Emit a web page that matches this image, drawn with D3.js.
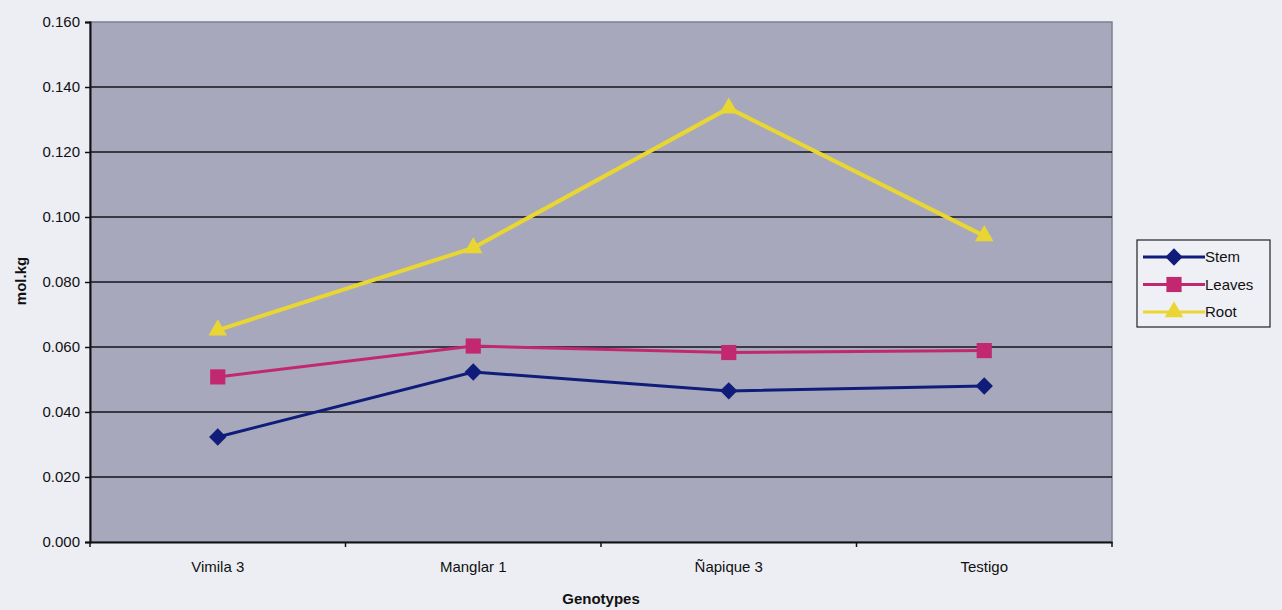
<!DOCTYPE html>
<html>
<head>
<meta charset="utf-8">
<script src="https://cdn.jsdelivr.net/npm/d3@7"></script>
<style>
  html, body { margin: 0; padding: 0; background: #eceef4; }
  svg { display: block; }
</style>
</head>
<body>
<svg id="chart" width="1282" height="610"></svg>
<script>
// Genotypes on the x axis
const categories = ["Vimila 3", "Manglar 1", "Ñapique 3", "Testigo"];
// Series values (mol.kg)
const stem   = [0.0323, 0.0523, 0.0465, 0.0480];
const leaves = [0.0508, 0.0603, 0.0583, 0.0589];
const root   = [0.0652, 0.0905, 0.1335, 0.0942];
// Y tick values
const yTicks = [0, 0.02, 0.04, 0.06, 0.08, 0.10, 0.12, 0.14, 0.16];

const series = [
  { name: "Stem",   values: stem,   color: "#101c7a", shape: "diamond" },
  { name: "Leaves", values: leaves, color: "#c2286f", shape: "square" },
  { name: "Root",   values: root,   color: "#e9d632", shape: "triangle" }
];

const FONT = "Liberation Sans, Arial, sans-serif";
const svg = d3.select("#chart");
const plot = { left: 90, right: 1112, top: 22, bottom: 542 };

const x = d3.scaleBand().domain(categories).range([plot.left, plot.right]).paddingInner(0).paddingOuter(0);
const y = d3.scaleLinear().domain([0, 0.16]).range([plot.bottom, plot.top]);

// plot background
svg.append("rect")
  .attr("x", plot.left).attr("y", plot.top)
  .attr("width", plot.right - plot.left).attr("height", plot.bottom - plot.top)
  .attr("fill", "#a7a8bc")
  .attr("stroke", "#7e7f8e").attr("stroke-width", 1.5);

// horizontal gridlines
svg.append("g").selectAll("line").data(yTicks.filter(d => d > 0 && d < 0.16)).join("line")
  .attr("x1", plot.left).attr("x2", plot.right)
  .attr("y1", d => y(d)).attr("y2", d => y(d))
  .attr("stroke", "#15151c").attr("stroke-width", 1.3);

// y axis
const yAxis = svg.append("g").attr("transform", `translate(${plot.left},0)`)
  .call(d3.axisLeft(y).tickValues(yTicks).tickFormat(d3.format(".3f")).tickSize(5).tickPadding(5));
yAxis.select(".domain").attr("stroke", "#111").attr("stroke-width", 2);
yAxis.selectAll(".tick line").attr("stroke", "#111").attr("stroke-width", 1.5);
yAxis.selectAll("text").attr("font-family", FONT)
  .attr("font-size", 15).attr("fill", "#111");

// x axis
const xAxis = svg.append("g").attr("transform", `translate(0,${plot.bottom})`)
  .call(d3.axisBottom(x).tickSize(0).tickPadding(19));
xAxis.select(".domain").attr("stroke", "#111").attr("stroke-width", 2);
xAxis.selectAll("text").attr("font-family", FONT)
  .attr("font-size", 15).attr("fill", "#111");
// category boundary ticks
const bounds = categories.map(c => x(c)).concat([x(categories[categories.length - 1]) + x.bandwidth()]);
svg.append("g").selectAll("line").data(bounds).join("line")
  .attr("x1", d => d).attr("x2", d => d)
  .attr("y1", plot.bottom).attr("y2", plot.bottom + 5)
  .attr("stroke", "#111").attr("stroke-width", 1.5);

// axis titles
svg.append("text")
  .attr("x", (plot.left + plot.right) / 2).attr("y", 604)
  .attr("text-anchor", "middle")
  .attr("font-family", FONT)
  .attr("font-size", 15).attr("font-weight", "bold").attr("fill", "#111")
  .text("Genotypes");
svg.append("text")
  .attr("transform", `translate(26,${(plot.top + plot.bottom) / 2 - 1}) rotate(-90)`)
  .attr("text-anchor", "middle")
  .attr("font-family", FONT)
  .attr("font-size", 15).attr("font-weight", "bold").attr("fill", "#111")
  .text("mol.kg");

const symbolFor = {
  diamond: d3.symbol().type(d3.symbolSquare).size(150),
  square: d3.symbol().type(d3.symbolSquare).size(230),
  triangle: d3.symbol().type(d3.symbolTriangle).size(150)
};

const cx = c => x(c) + x.bandwidth() / 2;
const line = d3.line().x((d, i) => cx(categories[i])).y(d => y(d));

series.forEach(s => {
  const g = svg.append("g");
  g.append("path")
    .attr("d", line(s.values))
    .attr("fill", "none")
    .attr("stroke", s.color)
    .attr("stroke-width", s.shape === "triangle" ? 4 : 3);
  g.selectAll("path.m").data(s.values).join("path")
    .attr("class", "m")
    .attr("d", symbolFor[s.shape])
    .attr("transform", (d, i) => `translate(${cx(categories[i])},${y(d)})` + (s.shape === "diamond" ? " rotate(45)" : ""))
    .attr("fill", s.color);
});

// legend
const leg = svg.append("g");
leg.append("rect")
  .attr("x", 1137).attr("y", 240).attr("width", 133).attr("height", 87)
  .attr("fill", "#eef0f6").attr("stroke", "#222").attr("stroke-width", 1.2);
series.forEach((s, i) => {
  const ly = 257 + i * 27.5;
  leg.append("line")
    .attr("x1", 1143).attr("x2", 1205).attr("y1", ly).attr("y2", ly)
    .attr("stroke", s.color).attr("stroke-width", 3);
  leg.append("path")
    .attr("d", symbolFor[s.shape])
    .attr("transform", `translate(1174,${ly})` + (s.shape === "diamond" ? " rotate(45)" : ""))
    .attr("fill", s.color);
  leg.append("text")
    .attr("x", 1205).attr("y", ly + 5)
    .attr("font-family", FONT)
    .attr("font-size", 15).attr("fill", "#111")
    .text(s.name);
});
</script>
</body>
</html>
